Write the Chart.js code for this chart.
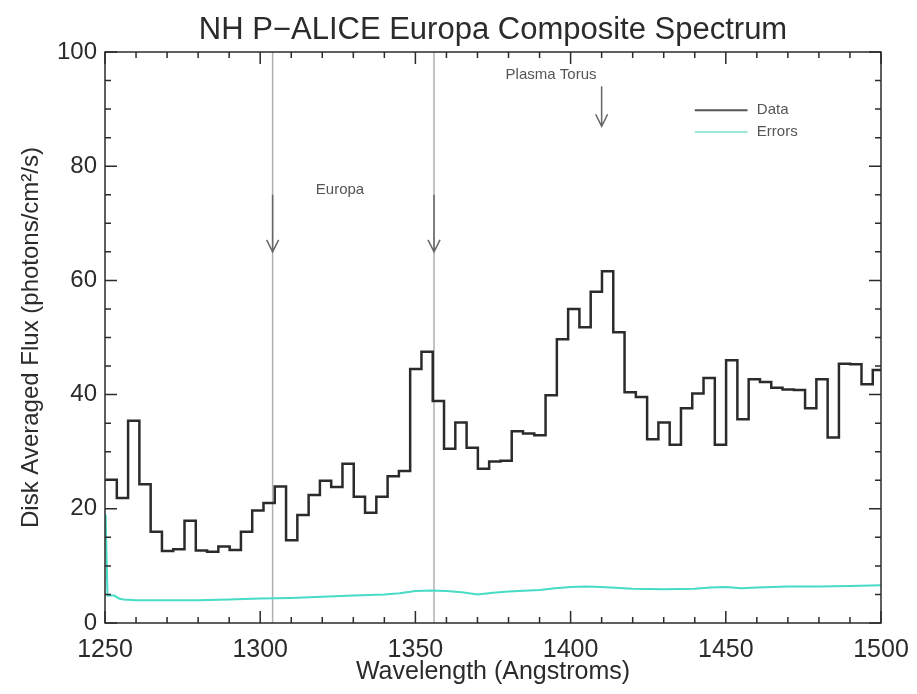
<!DOCTYPE html>
<html>
<head>
<meta charset="utf-8">
<script src="https://cdn.jsdelivr.net/npm/chart.js@4.4.0/dist/chart.umd.min.js"></script>
<style>
  html, body { margin: 0; padding: 0; background: #fff; }
  #wrap { width: 917px; height: 694px; }
</style>
</head>
<body>
<div id="wrap"><canvas id="spectrumChart"></canvas></div>
<script>
// Binned spectrum (Angstroms)
const binStart = 1250.17;
const binWidth = 3.635;
const fluxValues = [
  25.1, 21.9, 35.4, 24.3, 16.0, 12.6, 12.9, 17.9, 12.7, 12.5,
  13.4, 12.8, 16.0, 19.7, 21.0, 23.9, 14.5, 18.9, 22.4, 24.9,
  23.8, 27.9, 22.1, 19.3, 22.1, 25.7, 26.6, 44.5, 47.5, 38.9,
  30.5, 35.1, 30.7, 27.0, 28.3, 28.4, 33.6, 33.2, 32.9, 39.9,
  49.7, 55.0, 51.8, 58.0, 61.6, 50.9, 40.4, 39.6, 32.2, 35.1,
  31.2, 37.6, 40.2, 42.9, 31.2, 46.0, 35.7, 42.7, 42.2, 41.2,
  40.9, 40.8, 37.6, 42.7, 32.5, 45.4, 45.3, 41.8, 44.3
];

// Errors
const errorWavelengths = [1250.2, 1250.8, 1253, 1254.5, 1256, 1260, 1270, 1280, 1290, 1300,
  1310, 1320, 1330, 1340, 1345, 1350, 1355, 1360, 1365, 1370, 1375, 1380, 1390, 1395,
  1400, 1405, 1410, 1420, 1430, 1440, 1445, 1450, 1455, 1460, 1470, 1480, 1490, 1500];
const errorValues = [19.0, 4.8, 4.8, 4.3, 4.1, 4.0, 4.0, 4.0, 4.1, 4.3,
  4.4, 4.6, 4.8, 5.0, 5.2, 5.6, 5.7, 5.6, 5.4, 5.0, 5.3, 5.5, 5.8, 6.1,
  6.3, 6.4, 6.3, 6.0, 5.9, 6.0, 6.2, 6.3, 6.1, 6.2, 6.4, 6.4, 6.5, 6.6];

// Garis dan tick
const europaLines = [1304, 1356];
const torusLine = 1410;
const xMajorTicks = [1250, 1300, 1350, 1400, 1450, 1500];
const yMajorTicks = [0, 20, 40, 60, 80, 100];

const FONT = '"Liberation Sans", Arial, Helvetica, sans-serif';
const INK = '#2b2b2b';
const TITLE = 'NH P\u2212ALICE Europa Composite Spectrum';

const dataPoints = fluxValues.map((v, i) => ({ x: binStart + i * binWidth, y: v }));
dataPoints.push({ x: binStart + fluxValues.length * binWidth, y: fluxValues[fluxValues.length - 1] });
const errorPoints = errorWavelengths.map((w, i) => ({ x: w, y: errorValues[i] }));

function drawArrow(ctx, px, y1, y2) {
  ctx.beginPath();
  ctx.moveTo(px, y1);
  ctx.lineTo(px, y2);
  ctx.moveTo(px - 6, y2 - 12);
  ctx.lineTo(px, y2);
  ctx.lineTo(px + 6, y2 - 12);
  ctx.stroke();
}

const idlPlugin = {
  id: 'idlBox',
  beforeDatasetsDraw(chart) {
    const { ctx, chartArea: a, scales: { x } } = chart;
    ctx.save();
    ctx.strokeStyle = '#b0b0b0';
    ctx.lineWidth = 1.5;
    europaLines.forEach((w) => {
      const px = x.getPixelForValue(w);
      ctx.beginPath();
      ctx.moveTo(px, a.top);
      ctx.lineTo(px, a.bottom);
      ctx.stroke();
    });
    ctx.restore();
  },
  afterDatasetsDraw(chart) {
    const { ctx, chartArea: a, scales: { x, y } } = chart;
    ctx.save();
    // Judul di tengah area plot
    ctx.fillStyle = INK;
    ctx.font = '31px ' + FONT;
    ctx.textAlign = 'center';
    ctx.textBaseline = 'middle';
    ctx.fillText(TITLE, (a.left + a.right) / 2, 30);

    // Kotak dan tick ke dalam
    ctx.strokeStyle = INK;
    ctx.lineWidth = 1.5;
    ctx.strokeRect(a.left, a.top, a.right - a.left, a.bottom - a.top);
    ctx.beginPath();
    for (let w = 1250; w <= 1500; w += 10) {
      const px = x.getPixelForValue(w);
      const len = xMajorTicks.includes(w) ? 12 : 6;
      ctx.moveTo(px, a.bottom); ctx.lineTo(px, a.bottom - len);
      ctx.moveTo(px, a.top); ctx.lineTo(px, a.top + len);
    }
    for (let v = 0; v <= 100; v += 5) {
      const py = y.getPixelForValue(v);
      const len = yMajorTicks.includes(v) ? 12 : 6;
      ctx.moveTo(a.left, py); ctx.lineTo(a.left + len, py);
      ctx.moveTo(a.right, py); ctx.lineTo(a.right - len, py);
    }
    ctx.stroke();

    // Panah
    ctx.strokeStyle = '#666';
    ctx.lineWidth = 1.5;
    europaLines.forEach((w) => {
      drawArrow(ctx, x.getPixelForValue(w), y.getPixelForValue(75), y.getPixelForValue(65));
    });
    drawArrow(ctx, x.getPixelForValue(torusLine), y.getPixelForValue(94), y.getPixelForValue(87));

    // Label
    ctx.fillStyle = '#555';
    ctx.font = '15px ' + FONT;
    ctx.fillText('Europa', x.getPixelForValue(1325.7), y.getPixelForValue(75.8));
    ctx.fillText('Plasma Torus', x.getPixelForValue(1393.7), y.getPixelForValue(96));

    // Legenda
    const lx1 = x.getPixelForValue(1440), lx2 = x.getPixelForValue(1457);
    ctx.lineWidth = 2;
    ctx.strokeStyle = '#555';
    ctx.beginPath();
    ctx.moveTo(lx1, y.getPixelForValue(89.8)); ctx.lineTo(lx2, y.getPixelForValue(89.8));
    ctx.stroke();
    ctx.strokeStyle = '#9ee8da';
    ctx.beginPath();
    ctx.moveTo(lx1, y.getPixelForValue(86)); ctx.lineTo(lx2, y.getPixelForValue(86));
    ctx.stroke();
    ctx.textAlign = 'left';
    ctx.fillStyle = '#555';
    ctx.font = '15px ' + FONT;
    ctx.fillText('Data', x.getPixelForValue(1460), y.getPixelForValue(89.8));
    ctx.fillText('Errors', x.getPixelForValue(1460), y.getPixelForValue(86));
    ctx.restore();
  }
};

new Chart(document.getElementById('spectrumChart'), {
  type: 'line',
  data: {
    datasets: [
      {
        label: 'Data',
        data: dataPoints,
        stepped: 'before',
        borderColor: INK,
        borderWidth: 2.5,
        pointRadius: 0,
        fill: false
      },
      {
        label: 'Errors',
        data: errorPoints,
        borderColor: '#46dcc6',
        borderWidth: 2,
        pointRadius: 0,
        tension: 0,
        fill: false
      }
    ]
  },
  options: {
    responsive: true,
    maintainAspectRatio: false,
    animation: false,
    layout: { padding: { left: 0, right: 36, top: 52, bottom: 0 } },
    plugins: {
      legend: { display: false },
      tooltip: { enabled: false },
      title: { display: false }
    },
    scales: {
      x: {
        type: 'linear',
        min: 1250,
        max: 1500,
        grid: { display: false, drawTicks: false },
        border: { display: false },
        afterBuildTicks: (s) => { s.ticks = xMajorTicks.map((v) => ({ value: v })); },
        ticks: {
          color: INK,
          maxRotation: 0,
          padding: 12,
          font: { family: FONT, size: 25 },
          callback: (v) => String(v)
        },
        title: {
          display: true,
          text: 'Wavelength (Angstroms)',
          color: INK,
          font: { family: FONT, size: 25 },
          padding: { top: 0, bottom: 6.5 }
        },
        afterFit: (s) => { s.height = 71; s.paddingLeft = 0; s.paddingRight = 0; }
      },
      y: {
        min: 0,
        max: 100,
        grid: { display: false, drawTicks: false },
        border: { display: false },
        afterBuildTicks: (s) => { s.ticks = yMajorTicks.map((v) => ({ value: v })); },
        ticks: {
          color: INK,
          padding: 8,
          font: { family: FONT, size: 24 },
          callback: (v) => String(v)
        },
        title: {
          display: true,
          text: 'Disk Averaged Flux (photons/cm\u00b2/s)',
          color: INK,
          font: { family: FONT, size: 24 },
          padding: { top: 17, bottom: 0 }
        },
        afterFit: (s) => { s.width = 105; s.paddingTop = 0; s.paddingBottom = 0; }
      }
    }
  },
  plugins: [idlPlugin]
});
</script>
</body>
</html>
